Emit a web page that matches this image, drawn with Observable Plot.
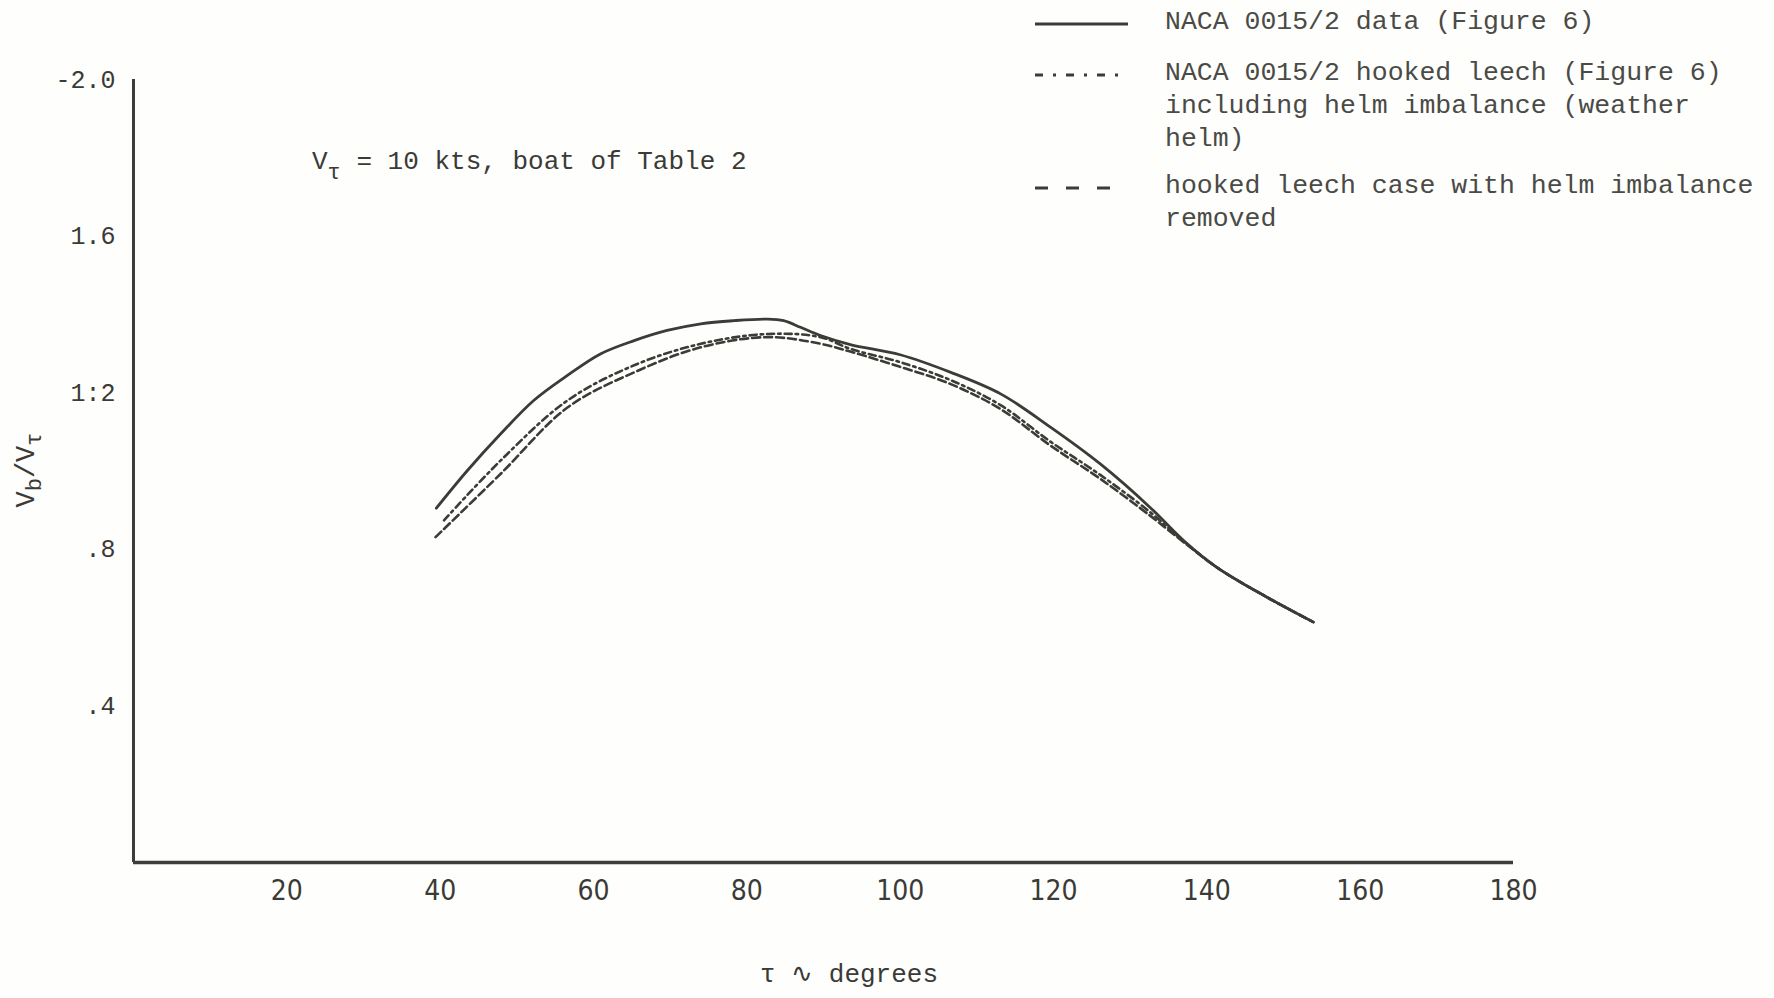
<!DOCTYPE html>
<html><head><meta charset="utf-8">
<script src="https://cdn.jsdelivr.net/npm/d3@7"></script>
<script src="https://cdn.jsdelivr.net/npm/@observablehq/plot@0.6"></script>
<style>
html,body{margin:0;padding:0;background:#fefefc;}
#wrap{position:relative;width:1774px;height:998px;overflow:hidden;background:#fefefc;}
#chart{position:absolute;left:0;top:0;}
.t{position:absolute;font-family:"Liberation Mono","DejaVu Sans Mono",monospace;color:#3a3a36;white-space:nowrap;}
.leg{position:absolute;left:1035px;}
.leg svg{position:absolute;left:0;}
.leg .lab{position:absolute;left:130px;top:0;font-family:"Liberation Mono","DejaVu Sans Mono",monospace;font-size:26.5px;line-height:33px;color:#4a4a46;white-space:nowrap;}
</style></head><body>
<div id="wrap"><div id="chart"></div>
<div class="t" id="ylab" style="left:30px;top:470px;font-size:27px;transform:translate(-50%,-50%) rotate(-90deg);">V<sub style="font-size:22px">b</sub>/V<sub style="font-size:22px">τ</sub></div>
<div class="t" id="note" style="left:312px;top:147px;font-size:26px;">V<sub style="font-size:22px;position:relative;top:4px">τ</sub> = 10 kts, boat of Table 2</div>
<div class="t" id="xlab" style="left:849px;top:974px;font-size:26px;transform:translate(-50%,-50%);">τ ∿ degrees</div>
<div id="legend"></div>
</div>
<script>
// ---- data ----
const xTicks = [20, 40, 60, 80, 100, 120, 140, 160, 180];
const yTicks = [0.4, 0.8, 1.2, 1.6, 2.0];
const yTickLabels = [".4", ".8", "1:2", "1.6", "-2.0"];

// NACA 0015/2 data (Figure 6)
const solidAngle = [39.5, 43.5, 47.9, 52.2, 56.6, 60.9, 65.3, 69.6, 74.0, 78.3, 82.7, 84.8, 87.0, 89.6, 93.5, 100.0, 106.6, 113.1, 119.6, 126.1, 132.6, 137.0, 141.3, 147.9, 153.9];
const solidSpeed = [0.905, 1.000, 1.095, 1.180, 1.244, 1.299, 1.333, 1.359, 1.376, 1.384, 1.388, 1.384, 1.367, 1.346, 1.323, 1.297, 1.252, 1.197, 1.112, 1.018, 0.907, 0.822, 0.754, 0.677, 0.614];

// NACA 0015/2 hooked leech incl. helm imbalance
const hookAngle = [40.5, 47.9, 56.6, 65.3, 74.0, 82.7, 89.6, 93.5, 100.0, 106.6, 113.1, 119.6, 126.1, 132.6, 135.7, 141.3, 147.9, 153.9];
const hookSpeed = [0.874, 1.027, 1.180, 1.270, 1.325, 1.350, 1.342, 1.312, 1.278, 1.232, 1.168, 1.075, 0.990, 0.895, 0.842, 0.754, 0.677, 0.614];

// hooked leech, helm imbalance removed
const removedAngle = [39.4, 47.9, 56.6, 65.3, 74.0, 82.7, 89.6, 93.5, 100.0, 106.6, 113.1, 119.6, 126.1, 132.6, 135.7, 141.3, 147.9, 153.9];
const removedSpeed = [0.831, 0.993, 1.162, 1.252, 1.316, 1.342, 1.325, 1.305, 1.266, 1.222, 1.158, 1.065, 0.980, 0.886, 0.838, 0.754, 0.677, 0.614];

const legendLabels = [
  ["NACA 0015/2 data (Figure 6)"],
  ["NACA 0015/2 hooked leech (Figure 6)", "including helm imbalance (weather", "helm)"],
  ["hooked leech case with helm imbalance", "removed"]
];

// ---- build ----
const ink = "#3b3c37";
const toRows = (xs, ys) => xs.map((x, i) => ({angle: x, speed: ys[i]}));
const series = [
  {rows: toRows(solidAngle, solidSpeed), dash: null, legDash: null},
  {rows: toRows(hookAngle, hookSpeed), dash: "7,4,2.5,4", legDash: "8,10,3,10"},
  {rows: toRows(removedAngle, removedSpeed), dash: "8,4", legDash: "13,18"}
];
const yLabelMap = new Map(yTicks.map((t, i) => [t, yTickLabels[i]]));

const chart = Plot.plot({
  width: 1774, height: 998,
  marginLeft: 133, marginRight: 261, marginTop: 79, marginBottom: 136,
  x: {domain: [0, 180]},
  y: {domain: [0, 2.0]},
  style: {background: "transparent", color: "#3a3a36", fontFamily: "Liberation Mono, DejaVu Sans Mono, monospace"},
  marks: [
    Plot.axisY(yTicks, {tickSize: 0, tickPadding: 18, fontSize: 25, label: null, tickFormat: d => yLabelMap.get(d)}),
    Plot.axisX(xTicks, {tickSize: 0, tickPadding: 18, fontSize: 28, label: null, fontFamily: "Liberation Sans Narrow, DejaVu Sans Condensed, Liberation Mono, monospace", tickFormat: d => String(d)}),
    Plot.ruleX([0], {stroke: "#3d3d3a", strokeWidth: 3}),
    Plot.ruleY([0], {stroke: "#3d3d3a", strokeWidth: 3.5}),
    ...series.map(s => Plot.line(s.rows, {x: "angle", y: "speed", curve: "catmull-rom", stroke: ink, strokeWidth: s.dash ? 2.6 : 2.8, strokeDasharray: s.dash || undefined}))
  ]
});
document.getElementById("chart").appendChild(chart);

// legend
const legTops = [6, 57, 170];
const leg = document.getElementById("legend");
series.forEach((s, i) => {
  const block = document.createElement("div");
  block.className = "leg";
  block.style.top = legTops[i] + "px";
  const ns = "http://www.w3.org/2000/svg";
  const svg = document.createElementNS(ns, "svg");
  svg.setAttribute("width", 95); svg.setAttribute("height", 33);
  const ln = document.createElementNS(ns, "line");
  ln.setAttribute("x1", 0); ln.setAttribute("x2", 93);
  ln.setAttribute("y1", 18); ln.setAttribute("y2", 18);
  ln.setAttribute("stroke", ink); ln.setAttribute("stroke-width", 3);
  if (s.legDash) ln.setAttribute("stroke-dasharray", s.legDash);
  svg.appendChild(ln);
  block.appendChild(svg);
  const lab = document.createElement("div");
  lab.className = "lab";
  lab.innerHTML = legendLabels[i].join("<br>");
  block.appendChild(lab);
  leg.appendChild(block);
});
</script>
</body></html>
